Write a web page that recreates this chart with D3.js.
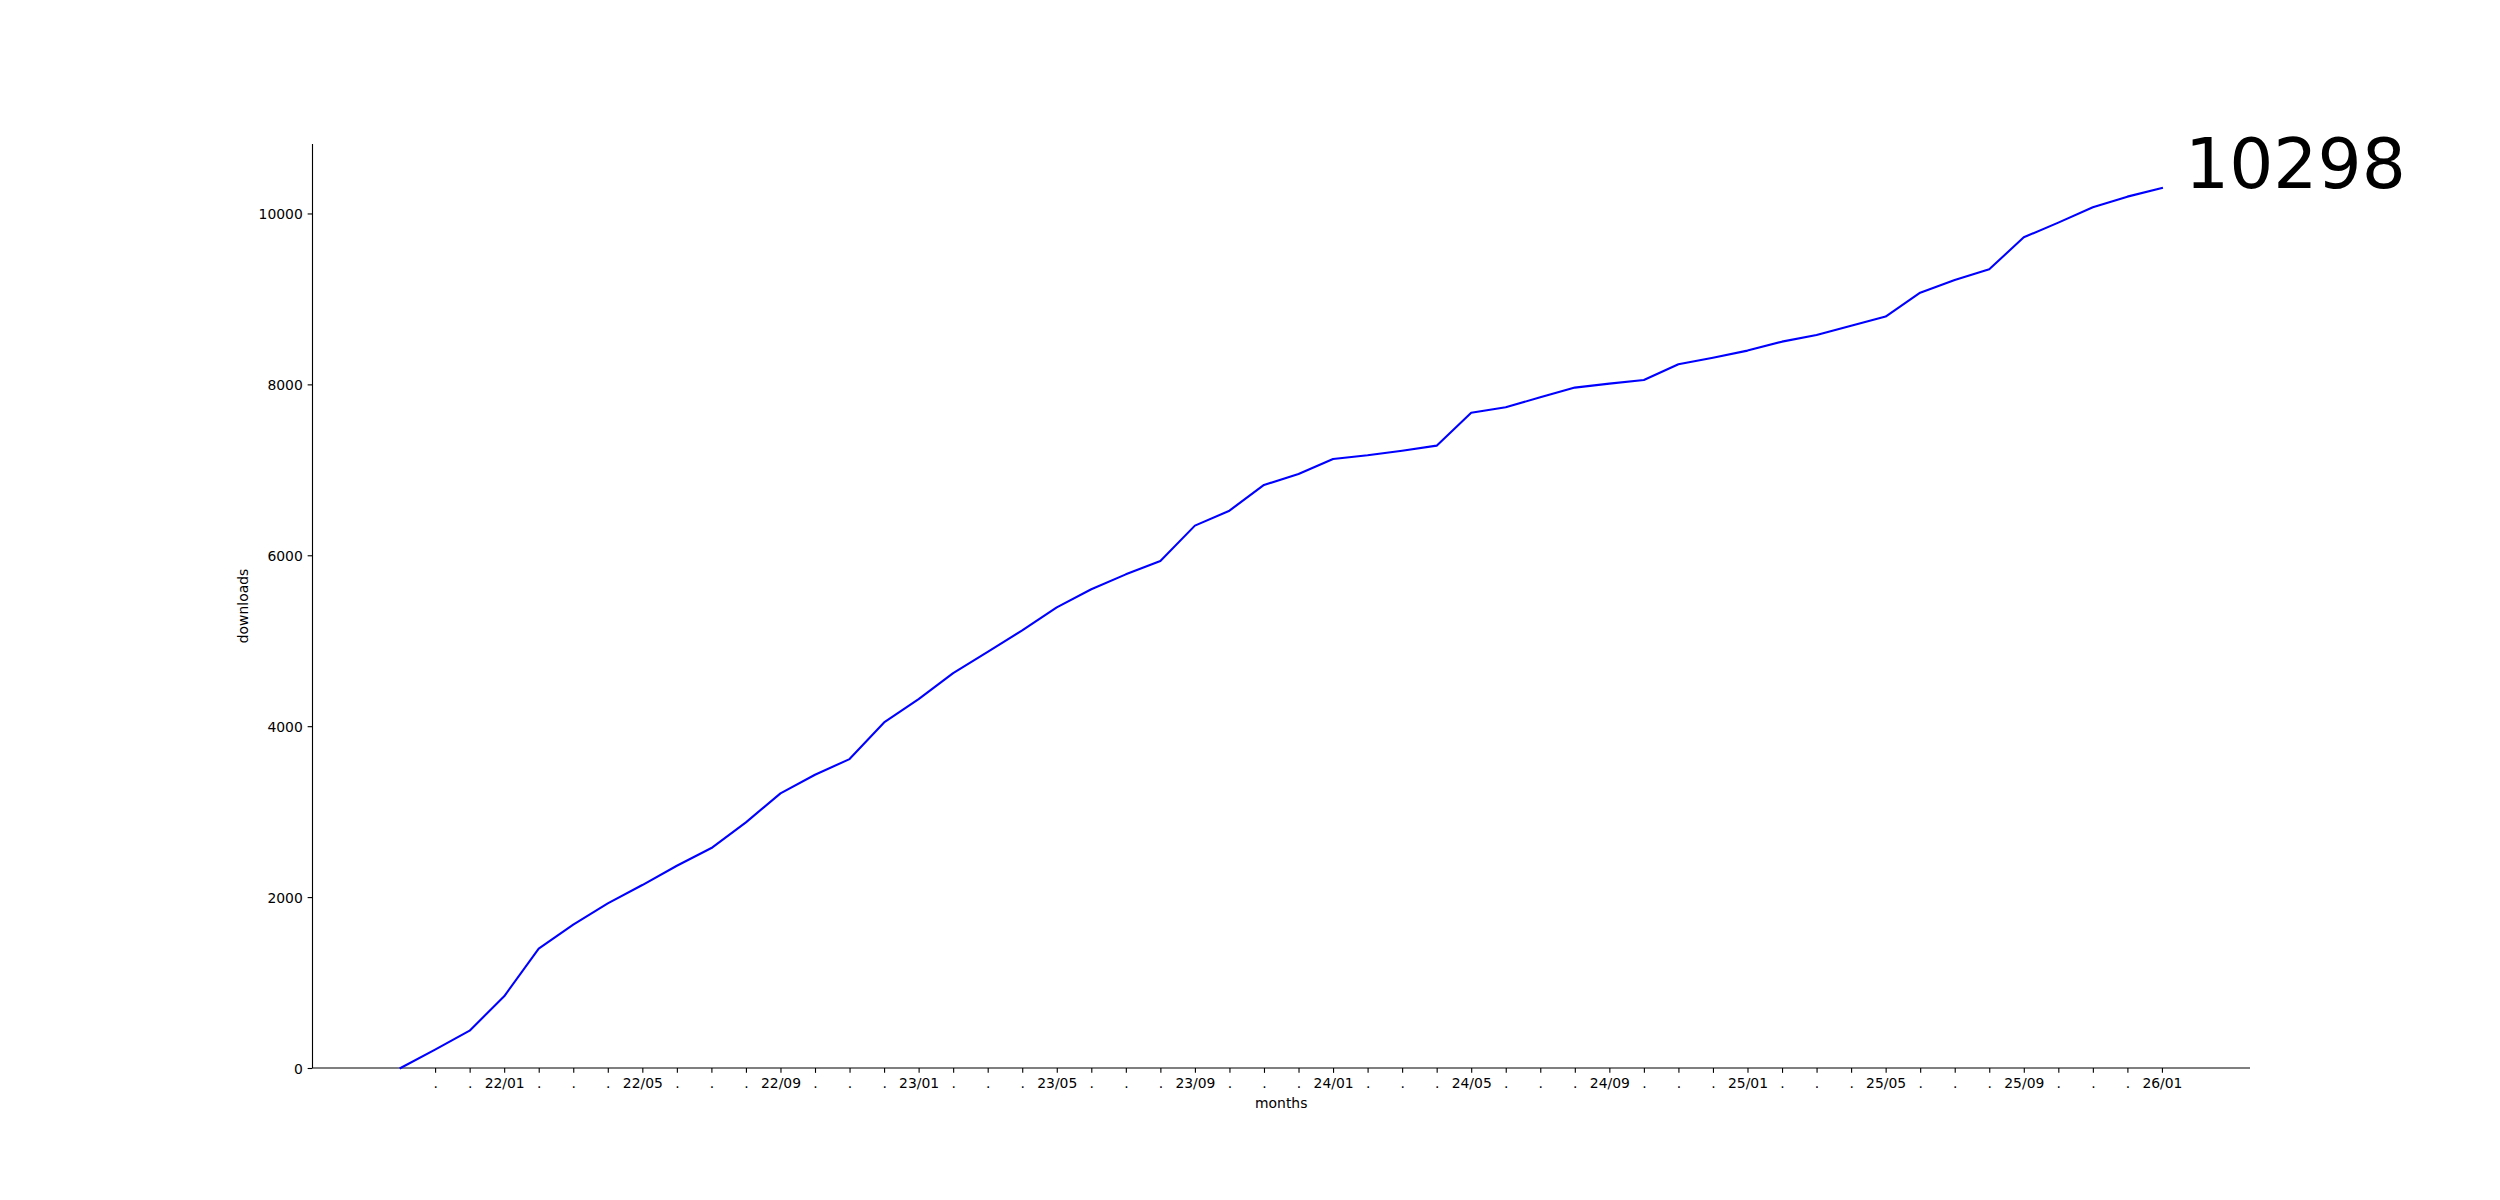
<!DOCTYPE html>
<html>
<head>
<meta charset="utf-8">
<script src="https://cdn.jsdelivr.net/npm/d3@7"></script>
<style>
  html, body { margin: 0; padding: 0; background: #fff; }
  svg { display: block; font-family: "DejaVu Sans", sans-serif; }
</style>
</head>
<body>
<svg id="chart" width="2500" height="1200"></svg>
<script>
// ---- data ----
const months = [
  "21/10","21/11","21/12",
  "22/01","22/02","22/03","22/04","22/05","22/06","22/07","22/08","22/09","22/10","22/11","22/12",
  "23/01","23/02","23/03","23/04","23/05","23/06","23/07","23/08","23/09","23/10","23/11","23/12",
  "24/01","24/02","24/03","24/04","24/05","24/06","24/07","24/08","24/09","24/10","24/11","24/12",
  "25/01","25/02","25/03","25/04","25/05","25/06","25/07","25/08","25/09","25/10","25/11","25/12",
  "26/01"
];
const downloads = [
  0, 215, 437, 839, 1396, 1677, 1927, 2141, 2367, 2574, 2874, 3214, 3432, 3615, 4044, 4317,
  4621, 4870, 5120, 5391, 5602, 5777, 5933, 6347, 6522, 6823, 6951, 7127, 7170, 7224, 7283,
  7669, 7732, 7849, 7962, 8009, 8052, 8235, 8312, 8395, 8500, 8578, 8687, 8793, 9073, 9222,
  9347, 9721, 9893, 10073, 10197, 10298
];
const yTicks = [0, 2000, 4000, 6000, 8000, 10000];
const labelledMonths = ["01", "05", "09"];
const xLabel = "months";
const yLabel = "downloads";

(function () {
// ---- layout ----
const mLeft = 312.5, mRight = 2250, mTop = 144, mBottom = 1068;
const svg = d3.select("#chart");

const n = downloads.length;
const xm = (n - 1) * 0.05;
const x = d3.scaleLinear().domain([-xm, n - 1 + xm]).range([mLeft, mRight]);
const yMax = d3.max(downloads);
const y = d3.scaleLinear().domain([0, yMax * 1.05]).range([mBottom, mTop]);

const tickLen = 4.86, pad = 4.86, fs = 13.9;

// x axis
const tickIdx = d3.range(1, n);
const xAxis = d3.axisBottom(x)
  .tickValues(tickIdx)
  .tickSize(tickLen)
  .tickPadding(pad)
  .tickFormat(i => {
    const m = months[i].split("/")[1];
    return labelledMonths.includes(m) ? months[i] : ".";
  });
const gx = svg.append("g").attr("transform", `translate(0,${mBottom})`).call(xAxis);
gx.select(".domain").attr("d", `M${mLeft},0H${mRight}`).attr("stroke", "#000").attr("stroke-width", 1.11);
gx.selectAll(".tick line").attr("stroke", "#000").attr("stroke-width", 1.11);
gx.selectAll(".tick text").attr("font-family", "DejaVu Sans").attr("font-size", fs).attr("fill", "#000")
  .attr("dy", null).attr("y", tickLen + pad + 10.6);

// y axis
const yAxis = d3.axisLeft(y).tickValues(yTicks).tickSize(tickLen).tickPadding(pad).tickFormat(d3.format("d"));
const gy = svg.append("g").attr("transform", `translate(${mLeft},0)`).call(yAxis);
gy.select(".domain").attr("d", `M0,${mBottom}V${mTop}`).attr("stroke", "#000").attr("stroke-width", 1.11);
gy.selectAll(".tick line").attr("stroke", "#000").attr("stroke-width", 1.11);
gy.selectAll(".tick text").attr("font-family", "DejaVu Sans").attr("font-size", fs).attr("fill", "#000")
  .attr("dy", "0.36em");

// line
const line = d3.line().x((d, i) => x(i)).y(d => y(d));
svg.append("path").datum(downloads)
  .attr("d", line)
  .attr("fill", "none")
  .attr("stroke", "#0000ff")
  .attr("stroke-width", 2.08)
  .attr("stroke-linejoin", "round")
  .attr("stroke-linecap", "square");

// axis labels
svg.append("text").attr("x", (mLeft + mRight) / 2).attr("y", 1107.5)
  .attr("text-anchor", "middle").attr("font-size", fs).attr("fill", "#000").text(xLabel);
svg.append("text")
  .attr("transform", `translate(248,${(mTop + mBottom) / 2}) rotate(-90)`)
  .attr("text-anchor", "middle").attr("font-size", fs).attr("fill", "#000").text(yLabel);

// final value annotation
svg.append("text")
  .attr("x", x(n - 1 + 0.67)).attr("y", y(downloads[n - 1]))
  .attr("font-size", 69.4).attr("fill", "#000")
  .text(String(downloads[n - 1]));
})();
</script>
</body>
</html>
